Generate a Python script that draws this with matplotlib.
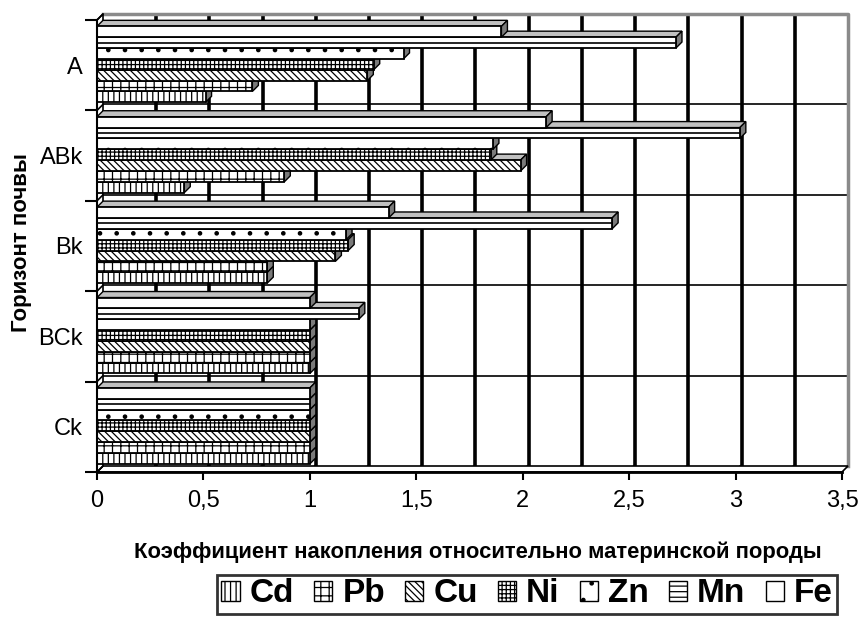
"""Horizontal pseudo-3D bar chart: heavy-metal accumulation ratio by soil horizon."""

import matplotlib
matplotlib.use("Agg")
import matplotlib.pyplot as plt
import numpy as np
from matplotlib.patches import Polygon, Rectangle

plt.rcParams["font.family"] = ["Liberation Sans", "DejaVu Sans"]
plt.rcParams["hatch.linewidth"] = 0.9

# ---- data (bottom -> top on the chart) ----
HORIZONS = ["Ck", "BCk", "Bk", "ABk", "A"]
METALS = ["Cd", "Pb", "Cu", "Ni", "Zn", "Mn", "Fe"]
CD = [1.00, 1.00, 0.80, 0.41, 0.51]
PB = [1.00, 1.00, 0.80, 0.88, 0.73]
CU = [1.00, 1.00, 1.12, 1.99, 1.27]
NI = [1.00, 1.00, 1.18, 1.85, 1.30]
ZN = [1.00, 1.00, 1.17, 1.86, 1.44]
MN = [1.00, 1.23, 2.42, 3.02, 2.72]
FE = [1.00, 1.00, 1.37, 2.11, 1.90]
SERIES = [CD, PB, CU, NI, ZN, MN, FE]
HATCHES = ["|||", "++", "\\\\\\\\\\", "++++", ".", "", ""]
LEG_HATCHES = ["|||", "++", "\\\\\\\\\\", "++++", ".", "---", ""]

W, H, DPI = 859, 622, 100
X0, X1 = 97, 842          # px of x=0 and x=3.5 (front plane)
YB, YT = 472, 20          # px of front bottom / top
XMAX = 3.5
DX = 6 / ((X1 - X0) / XMAX)       # depth offset in data units
DY = 6 / ((YB - YT) / 5)
BAR_H = 0.12
TOP_C, SIDE_C = "#c0c0c0", "#7a7a7a"

fig = plt.figure(figsize=(W / DPI, H / DPI), dpi=DPI)
ax = fig.add_axes([X0 / W, 1 - YB / H, (X1 - X0) / W, (YB - YT) / H])
ax.set_xlim(0, XMAX)
ax.set_ylim(-0.5, 4.5)

# back wall, floor, side wall
for xv in np.arange(0.25, XMAX, 0.25):
    ax.plot([xv + DX, xv + DX], [-0.5 + DY, 4.5 + DY], color="black", lw=2.6,
            zorder=1, clip_on=False, solid_capstyle="butt")
    ax.plot([xv, xv + DX], [-0.5, -0.5 + DY], color="black", lw=2.6, zorder=1,
            clip_on=False, solid_capstyle="butt")
for yb in np.arange(0.5, 4.0, 1.0):
    ax.plot([DX, XMAX + DX], [yb + DY, yb + DY], color="black", lw=1.2, zorder=1,
            clip_on=False)
ax.plot([DX, XMAX + DX, XMAX + DX], [4.5 + DY, 4.5 + DY, -0.5 + DY], color="#8a8a8a",
        lw=2.5, zorder=1, clip_on=False)
ax.add_patch(Polygon([(0, -0.5), (XMAX, -0.5), (XMAX + DX, -0.5 + DY), (DX, -0.5 + DY)],
                     closed=True, fc="white", ec="black", lw=1.2, zorder=1, clip_on=False))
ax.add_patch(Polygon([(0, -0.5), (DX, -0.5 + DY), (DX, 4.5 + DY), (0, 4.5)],
                     closed=True, fc="white", ec="black", lw=1.2, zorder=1, clip_on=False))
for yb in np.arange(-0.5, 4.6, 1.0):
    ax.plot([0, DX], [yb, yb + DY], color="black", lw=1.2, zorder=1, clip_on=False)

# bars
z = 2
for k, hz in enumerate(HORIZONS):
    base = k - 0.42 + 0.01
    for i, vals in enumerate(SERIES):
        v = vals[k]
        y0 = base + i * BAR_H
        y1 = y0 + BAR_H
        ax.add_patch(Polygon([(0, y1), (v, y1), (v + DX, y1 + DY), (DX, y1 + DY)],
                             closed=True, fc=TOP_C, ec="black", lw=1.0, zorder=z,
                             clip_on=False))
        ax.add_patch(Polygon([(v, y0), (v + DX, y0 + DY), (v + DX, y1 + DY), (v, y1)],
                             closed=True, fc=SIDE_C, ec="black", lw=1.0, zorder=z,
                             clip_on=False))
        ax.add_patch(Rectangle((0, y0), v, BAR_H, fc="white", ec="black", lw=1.3,
                               hatch=HATCHES[i], zorder=z + 0.5, clip_on=False))
        if METALS[i] == "Mn":
            ax.plot([0, v], [y0 + BAR_H / 2] * 2, color="black", lw=1.2, zorder=z + 0.6)
        z += 1

# axes / ticks
for s in ["top", "right"]:
    ax.spines[s].set_visible(False)
ax.spines["left"].set_linewidth(1.5)
ax.spines["bottom"].set_linewidth(2)
ax.spines["left"].set_zorder(z + 1)
ax.spines["bottom"].set_zorder(z + 1)
xt = np.arange(0, XMAX + 0.01, 0.5)
ax.set_xticks(xt, [f"{t:g}".replace(".", ",") for t in xt], fontsize=17)
ax.tick_params(axis="x", length=6, width=1.5, pad=7)
ax.set_yticks(range(len(HORIZONS)), HORIZONS, fontsize=17)
ax.set_yticks(np.arange(-0.5, 4.6, 1.0), minor=True)
ax.tick_params(axis="y", which="major", length=0, pad=10)
ax.tick_params(axis="y", which="minor", length=9, width=1.5)
ax.set_facecolor("none")

fig.text(478 / W, 1 - 552 / H, "Коэффициент накопления относительно материнской породы",
         ha="center", va="center", fontsize=15.8, fontweight="bold")
fig.text(22 / W, 1 - 243 / H, "Горизонт почвы", ha="center", va="center",
         rotation=90, fontsize=16, fontweight="bold")

handles = [Rectangle((0, 0), 1, 1, fc="white", ec="black", lw=1.0, hatch=h)
           for h in LEG_HATCHES]
leg = fig.legend(handles, METALS, loc="center", bbox_to_anchor=(527 / W, 1 - 594 / H),
                 ncol=7, prop={"weight": "bold", "size": 24},
                 handlelength=0.55, handleheight=0.55, handletextpad=0.3,
                 columnspacing=0.6, borderpad=0.12, fancybox=False, frameon=True)
leg.get_frame().set_edgecolor("black")
leg.get_frame().set_linewidth(2)

fig.savefig("out.png", dpi=DPI)
